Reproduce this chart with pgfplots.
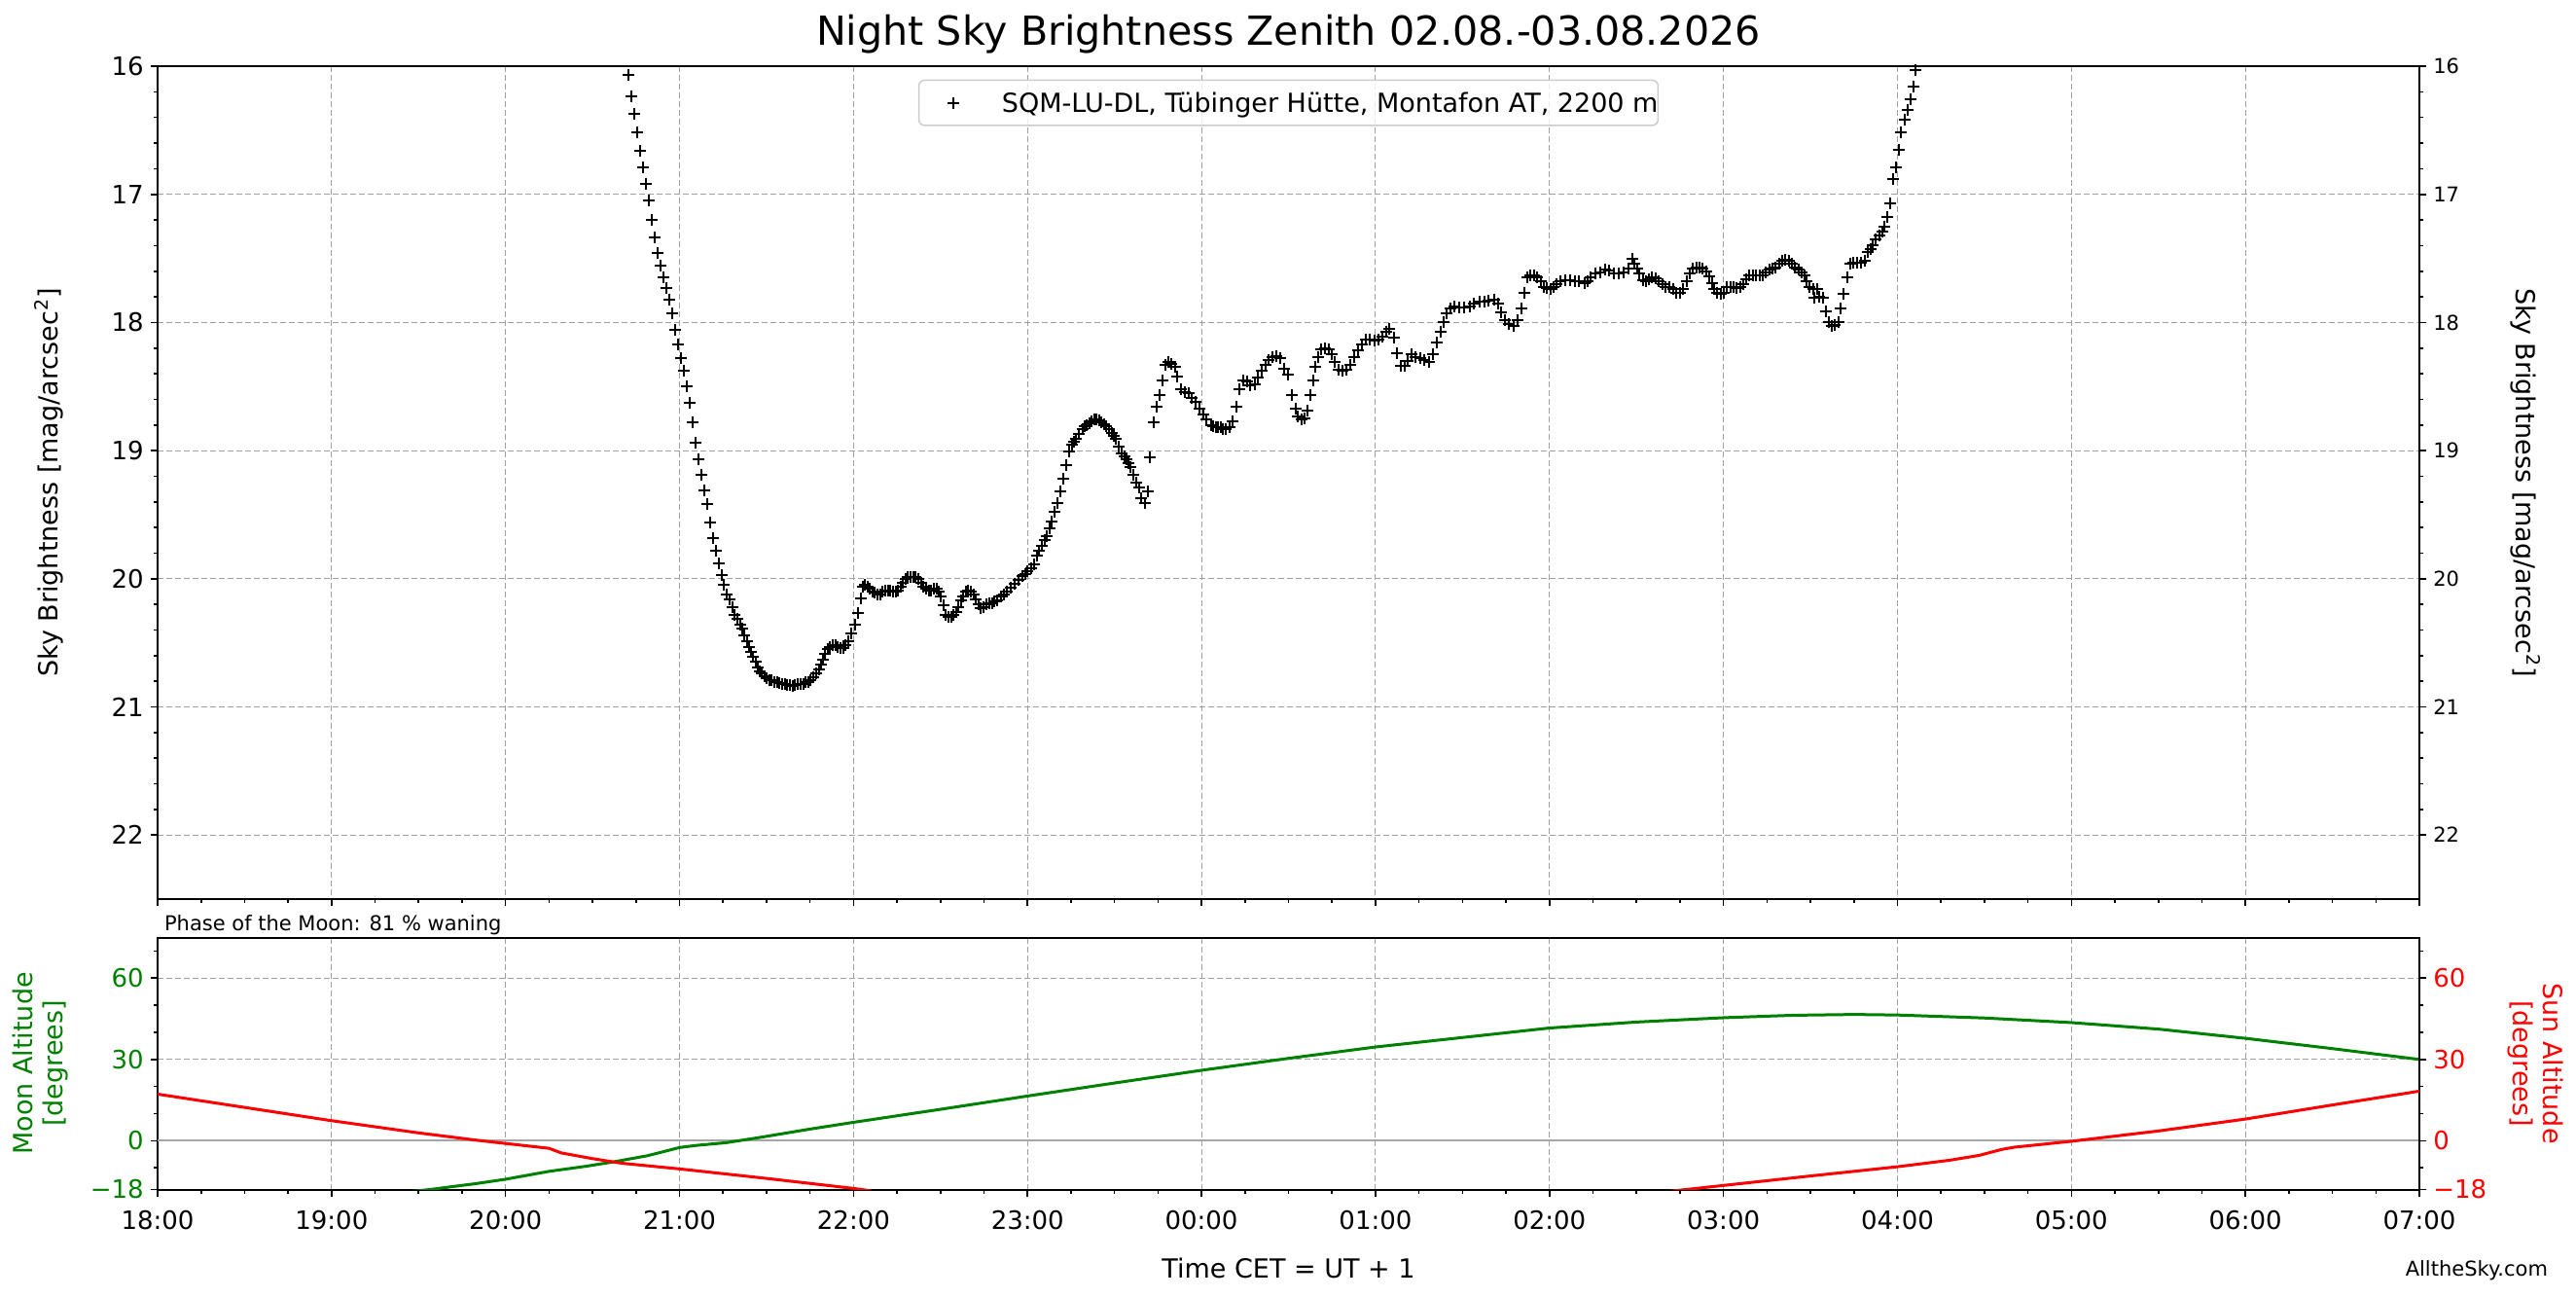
\documentclass[border=0pt]{standalone}
\usepackage{fontspec}
\setmainfont{DejaVu Sans}
\usepackage{pgfplots}
\usepackage{pgfplotstable}
\pgfplotsset{compat=1.18}
\definecolor{mgreen}{HTML}{008000}
\definecolor{mred}{HTML}{FF0000}
\definecolor{gridgray}{HTML}{A0A0A0}

\pgfplotstableread{
h m
2.706 16.07
2.721 16.235
2.741 16.37
2.756 16.52
2.773 16.66
2.790 16.79
2.808 16.92
2.825 17.05
2.840 17.20
2.858 17.34
2.875 17.46
2.890 17.56
2.908 17.65
2.923 17.73
2.943 17.82
2.958 17.93
2.973 18.06
2.990 18.17
3.007 18.28
3.025 18.38
3.042 18.50
3.057 18.63
3.075 18.78
3.092 18.94
3.107 19.07
3.125 19.19
3.142 19.31
3.160 19.42
3.175 19.56
3.192 19.68
3.208 19.78
3.226 19.88
3.241 19.97
3.256 20.05
3.273 20.12
3.288 20.16
3.303 20.22
3.318 20.28
3.333 20.31
3.347 20.36
3.362 20.39
3.374 20.44
3.387 20.49
3.400 20.53
3.413 20.57
3.424 20.61
3.437 20.65
3.450 20.69
3.461 20.72
3.474 20.74
3.487 20.76
3.502 20.78
3.515 20.79
3.530 20.795
3.545 20.805
3.560 20.81
3.575 20.815
3.590 20.82
3.605 20.825
3.620 20.83
3.635 20.83
3.650 20.835
3.664 20.83
3.680 20.825
3.694 20.82
3.710 20.82
3.724 20.81
3.739 20.805
3.754 20.795
3.769 20.77
3.784 20.74
3.800 20.71
3.812 20.67
3.825 20.63
3.838 20.585
3.850 20.55
3.866 20.53
3.880 20.52
3.896 20.52
3.910 20.53
3.925 20.54
3.940 20.54
3.955 20.52
3.968 20.49
3.985 20.43
4.009 20.36
4.026 20.27
4.041 20.15
4.052 20.06
4.067 20.05
4.080 20.06
4.093 20.08
4.108 20.10
4.123 20.11
4.138 20.12
4.153 20.12
4.168 20.10
4.183 20.09
4.198 20.09
4.213 20.09
4.227 20.10
4.242 20.10
4.257 20.09
4.270 20.06
4.283 20.03
4.298 20.00
4.313 19.99
4.328 19.985
4.343 19.985
4.358 19.99
4.373 20.00
4.388 20.03
4.403 20.06
4.418 20.08
4.432 20.09
4.447 20.09
4.462 20.08
4.477 20.08
4.490 20.10
4.503 20.14
4.518 20.21
4.531 20.28
4.546 20.30
4.561 20.30
4.576 20.28
4.590 20.26
4.604 20.22
4.617 20.17
4.630 20.14
4.645 20.10
4.660 20.09
4.675 20.10
4.690 20.12
4.705 20.16
4.718 20.20
4.733 20.23
4.748 20.22
4.763 20.20
4.780 20.19
4.795 20.19
4.810 20.18
4.826 20.17
4.845 20.14
4.865 20.12
4.883 20.10
4.905 20.07
4.926 20.04
4.948 20.01
4.970 19.98
4.985 19.96
5.000 19.94
5.020 19.92
5.040 19.89
5.054 19.82
5.068 19.78
5.083 19.74
5.097 19.70
5.111 19.67
5.126 19.61
5.140 19.55
5.154 19.48
5.170 19.41
5.186 19.32
5.203 19.22
5.220 19.11
5.237 19.01
5.254 18.95
5.265 18.93
5.277 18.91
5.297 18.87
5.317 18.83
5.330 18.81
5.340 18.80
5.355 18.785
5.368 18.77
5.383 18.76
5.397 18.76
5.412 18.765
5.426 18.78
5.440 18.795
5.454 18.81
5.468 18.835
5.483 18.86
5.495 18.885
5.505 18.91
5.525 18.97
5.540 19.02
5.555 19.045
5.568 19.07
5.580 19.10
5.590 19.13
5.608 19.19
5.625 19.25
5.640 19.29
5.654 19.37
5.674 19.41
5.690 19.32
5.705 19.05
5.725 18.78
5.740 18.66
5.757 18.57
5.774 18.45
5.790 18.33
5.810 18.31
5.828 18.32
5.848 18.35
5.860 18.42
5.882 18.52
5.903 18.54
5.925 18.55
5.945 18.59
5.968 18.62
5.990 18.67
6.010 18.72
6.030 18.76
6.054 18.80
6.068 18.81
6.082 18.82
6.096 18.82
6.110 18.82
6.125 18.83
6.140 18.83
6.160 18.82
6.180 18.77
6.200 18.66
6.220 18.52
6.240 18.45
6.260 18.46
6.280 18.49
6.305 18.48
6.325 18.43
6.345 18.38
6.368 18.33
6.388 18.29
6.410 18.27
6.430 18.265
6.453 18.28
6.476 18.36
6.496 18.41
6.520 18.57
6.540 18.67
6.553 18.73
6.573 18.76
6.590 18.75
6.610 18.69
6.625 18.57
6.640 18.45
6.653 18.35
6.670 18.27
6.690 18.21
6.710 18.20
6.730 18.21
6.750 18.25
6.768 18.31
6.790 18.37
6.810 18.38
6.830 18.37
6.853 18.33
6.876 18.27
6.900 18.22
6.920 18.17
6.945 18.13
6.967 18.13
6.996 18.14
7.018 18.135
7.040 18.11
7.060 18.07
7.080 18.05
7.105 18.12
7.125 18.24
7.145 18.34
7.167 18.34
7.187 18.30
7.207 18.25
7.230 18.27
7.255 18.28
7.280 18.29
7.310 18.31
7.333 18.25
7.353 18.16
7.373 18.07
7.390 17.995
7.410 17.93
7.430 17.89
7.453 17.875
7.480 17.88
7.510 17.88
7.540 17.875
7.567 17.855
7.596 17.84
7.624 17.835
7.650 17.83
7.680 17.825
7.704 17.855
7.724 17.92
7.744 17.98
7.767 18.01
7.795 18.03
7.818 17.98
7.838 17.89
7.855 17.77
7.870 17.65
7.890 17.635
7.910 17.63
7.930 17.65
7.950 17.68
7.970 17.72
7.987 17.73
8.006 17.74
8.025 17.72
8.043 17.70
8.060 17.68
8.090 17.67
8.118 17.67
8.145 17.68
8.170 17.68
8.200 17.69
8.220 17.675
8.238 17.65
8.266 17.62
8.294 17.61
8.320 17.59
8.345 17.595
8.370 17.62
8.397 17.62
8.425 17.61
8.452 17.58
8.475 17.50
8.490 17.54
8.505 17.58
8.518 17.62
8.536 17.67
8.555 17.68
8.573 17.66
8.590 17.65
8.610 17.655
8.630 17.68
8.648 17.70
8.667 17.72
8.690 17.72
8.713 17.74
8.730 17.77
8.750 17.77
8.770 17.74
8.788 17.68
8.806 17.62
8.825 17.58
8.844 17.57
8.862 17.57
8.880 17.58
8.900 17.60
8.918 17.64
8.933 17.69
8.948 17.74
8.965 17.77
8.983 17.78
9.000 17.77
9.020 17.72
9.040 17.72
9.058 17.725
9.076 17.73
9.095 17.725
9.113 17.70
9.130 17.66
9.150 17.63
9.170 17.63
9.188 17.63
9.207 17.635
9.225 17.63
9.244 17.61
9.263 17.59
9.280 17.58
9.300 17.57
9.318 17.54
9.337 17.52
9.356 17.51
9.374 17.52
9.393 17.54
9.410 17.57
9.430 17.59
9.449 17.61
9.467 17.63
9.480 17.68
9.495 17.72
9.514 17.74
9.523 17.81
9.540 17.74
9.550 17.80
9.570 17.81
9.588 17.91
9.607 18.00
9.620 18.03
9.640 18.02
9.660 18.00
9.672 17.89
9.690 17.78
9.710 17.65
9.728 17.54
9.747 17.53
9.770 17.53
9.793 17.53
9.810 17.52
9.827 17.45
9.845 17.43
9.858 17.40
9.877 17.35
9.896 17.32
9.915 17.29
9.927 17.25
9.940 17.18
9.957 17.07
9.974 16.88
9.990 16.79
10.007 16.65
10.022 16.52
10.040 16.42
10.058 16.34
10.073 16.26
10.090 16.16
10.106 16.03
}\sqm

\pgfplotstableread{
h alt
1.45 -18.8
1.564 -18.0
1.833 -15.8
2.0 -14.2
2.25 -11.3
2.465 -9.4
2.62 -7.8
2.81 -5.6
2.91 -4.0
3.0 -2.5
3.1 -1.7
3.27 -0.7
3.45 1.1
3.75 4.3
4.0 6.8
4.5 11.6
5.0 16.5
5.5 21.3
6.0 26.0
6.5 30.4
7.0 34.6
7.5 38.1
8.0 41.6
8.5 43.8
9.0 45.4
9.4 46.3
9.75 46.6
10.0 46.4
10.5 45.3
11.0 43.6
11.5 41.2
12.0 37.8
12.5 34.0
13.0 30.0
}\moon

\pgfplotstableread{
h alt
0.0 17.2
0.5 12.3
1.0 7.4
1.5 2.9
1.833 0.2
2.0 -1.0
2.25 -2.8
2.32 -4.5
2.5 -6.6
2.667 -8.3
3.0 -10.4
3.5 -13.9
4.0 -17.6
4.1 -18.5
}\sunevening

\pgfplotstableread{
h alt
8.70 -18.6
9.0 -16.5
9.5 -13.0
10.0 -9.6
10.3 -7.2
10.47 -5.4
10.6 -3.2
10.67 -2.4
11.0 -0.2
11.5 3.6
12.0 8.0
12.5 13.2
13.0 18.3
}\sunmorning

\pgfplotsset{
  base/.style={
    scale only axis, width=1162.5pt,
    xmin=0, xmax=13,
    xtick={0,...,13},
    minor x tick num=3,
    tick align=outside,
    axis line style={line width=1pt},
    major tick length=3.65pt, minor tick length=2pt,
    every tick/.style={black, line width=0.8pt},
    /pgf/number format/assume math mode=true,
    tick label style={font=\fontsize{13}{13}\selectfont},
    major grid style={gridgray, dash pattern=on 3pt off 1.5pt, line width=0.5pt},
  }
}

\begin{document}
\begin{tikzpicture}
\path[use as bounding box] (0pt,0pt) rectangle (1324pt,666.5pt);

% ---------- top panel, left axis ----------
\begin{axis}[base, at={(81pt,204.5pt)}, anchor=south west, height=428pt,
  y dir=reverse, ymin=16, ymax=22.5, ytick={16,...,22}, minor y tick num=4,
  xticklabels={}, xtick pos=bottom, ytick pos=left,
  grid=major,
  every axis y label/.style={at={(axis description cs:0,0.5)}, xshift=-51.25pt, anchor=base, rotate=90, font=\fontsize{13.5}{13.5}\selectfont},
  ylabel={Sky Brightness [mag/arcsec\textsuperscript{2}]},
  every axis title/.style={at={(axis description cs:0.5,1)}, anchor=base, yshift=10.65pt, font=\fontsize{20.6}{24}\selectfont},
  title={Night Sky Brightness Zenith 02.08.-03.08.2026},
  legend style={at={(axis description cs:0.5,1)}, anchor=north, yshift=-6.85pt,
    draw=black!20, line width=0.75pt, rounded corners=3pt, fill=white, fill opacity=0.8, text opacity=1,
    inner xsep=0pt, inner ysep=0pt, nodes={inner sep=0pt, text height=9.8pt, text depth=0pt, draw=none, fill=none},
    font=\fontsize{13.5}{13.5}\selectfont},
  legend cell align=left,
  legend image code/.code={\path[draw=none, fill=none] (0pt,-11.6pt) rectangle (42.7pt,11.6pt); \draw[#1] plot coordinates {(17.8pt,0pt)};},
]
\addplot[only marks, mark=+, black, mark size=3pt, mark options={line width=1pt}] table[x=h, y=m] {\sqm};
\addlegendentry{SQM-LU-DL, Tübinger Hütte, Montafon AT, 2200 m\hspace{7pt}}
\end{axis}

% ---------- top panel, right axis ----------
\begin{axis}[base, at={(81pt,204.5pt)}, anchor=south west, height=428pt,
  y dir=reverse, ymin=16, ymax=22.5, ytick={16,...,22}, minor y tick num=4,
  axis x line=none, axis y line*=right,
  yticklabel style={font=\fontsize{10.5}{10.5}\selectfont},
  every axis y label/.style={at={(axis description cs:1,0.5)}, xshift=49.8pt, anchor=base, rotate=-90, font=\fontsize{13.5}{13.5}\selectfont},
  ylabel={Sky Brightness [mag/arcsec\textsuperscript{2}]},
]
\addplot[draw=none, forget plot] coordinates {(0,16) (13,16)};
\end{axis}

% ---------- bottom panel, left axis (Moon) ----------
\begin{axis}[base, at={(81pt,55.25pt)}, anchor=south west, height=129.5pt,
  ymin=-18, ymax=75, ytick={-18,0,30,60}, yticklabels={−18,0,30,60},
  minor ytick={-10,10,20,40,50,70},
  xticklabels={18:00,19:00,20:00,21:00,22:00,23:00,00:00,01:00,02:00,03:00,04:00,05:00,06:00,07:00},
  xticklabel style={yshift=-3.5pt},
  xtick pos=bottom, ytick pos=left,
  grid=major,
  yticklabel style={text=mgreen},
  every axis y label/.style={at={(axis description cs:0,0.5)}, xshift=-60.35pt, anchor=center, rotate=90, align=center, text=mgreen, font=\fontsize{13.5}{15.5}\selectfont},
  ylabel={Moon Altitude\\{[degrees]}},
  every axis x label/.style={at={(axis description cs:0.5,0)}, anchor=base, yshift=-45.25pt, font=\fontsize{13.5}{13.5}\selectfont},
  xlabel={Time CET = UT + 1},
  every axis title/.style={at={(axis description cs:0,1)}, anchor=base west, yshift=3.5pt, font=\fontsize{10.5}{12}\selectfont},
  title={Phase of the Moon: 81 \% waning},
]
\addplot[color=black!35, line width=1pt, forget plot] coordinates {(0,0) (13,0)};
\addplot[mgreen, line width=1.5pt] table[x=h, y=alt] {\moon};
\end{axis}

% ---------- bottom panel, right axis (Sun) ----------
\begin{axis}[base, at={(81pt,55.25pt)}, anchor=south west, height=129.5pt,
  ymin=-18, ymax=75, ytick={-18,0,30,60}, yticklabels={−18,0,30,60},
  minor ytick={-10,10,20,40,50,70},
  axis x line=none, axis y line*=right,
  yticklabel style={text=mred},
  every axis y label/.style={at={(axis description cs:1,0.5)}, xshift=59.5pt, anchor=center, rotate=-90, align=center, text=mred, font=\fontsize{13.5}{15.5}\selectfont},
  ylabel={Sun Altitude\\{[degrees]}},
]
\addplot[mred, line width=1.5pt] table[x=h, y=alt] {\sunevening};
\addplot[mred, line width=1.5pt] table[x=h, y=alt] {\sunmorning};
\end{axis}

\node[anchor=base east, font=\fontsize{10.5}{12}\selectfont] at (1313pt,10.65pt) {AlltheSky.com};
\end{tikzpicture}
\end{document}
